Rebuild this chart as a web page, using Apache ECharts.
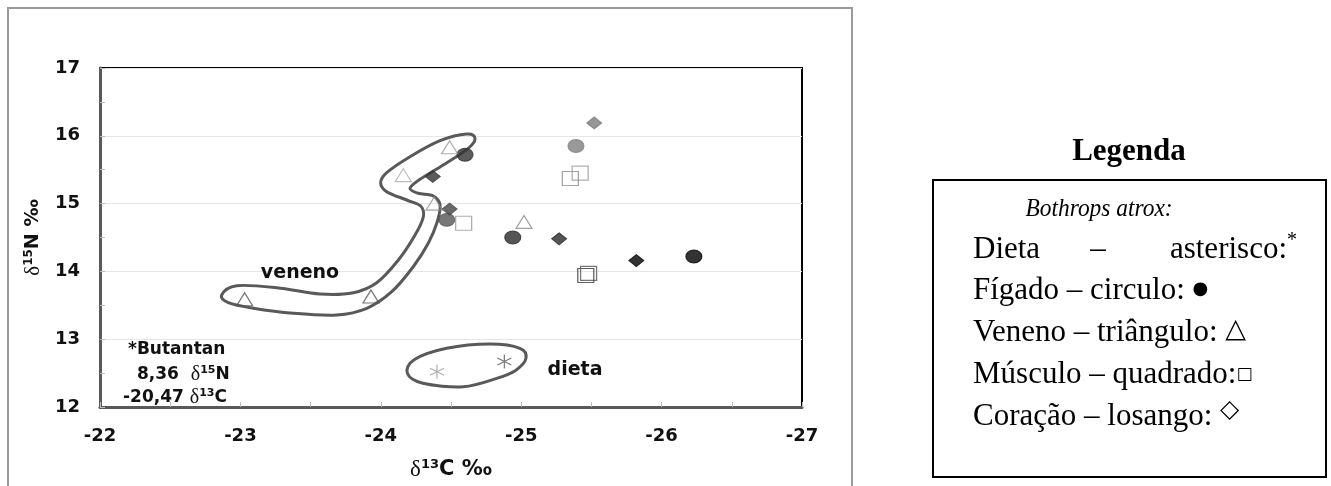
<!DOCTYPE html>
<html>
<head>
<meta charset="utf-8">
<script src="https://cdn.jsdelivr.net/npm/echarts@6/dist/echarts.min.js"></script>
<style>
  html, body { margin: 0; padding: 0; background: #fff; }
  #chart { width: 1331px; height: 486px; }
</style>
</head>
<body>
<div id="chart"></div>
<script>
// δ13C (x) and δ15N (y) values per tissue of Bothrops atrox
const liverPoints  = [[-24.60, 15.72], [-24.47, 14.76], [-24.94, 14.50], [-25.39, 15.85], [-26.23, 14.22]];
const heartPoints  = [[-25.52, 16.19], [-24.37, 15.40], [-24.49, 14.92], [-25.27, 14.48], [-25.82, 14.16]];
const musclePoints = [[-25.35, 15.37], [-25.42, 15.45], [-24.59, 14.71], [-25.46, 13.94], [-25.48, 13.97]];
const venomPoints  = [[-23.03, 13.59], [-23.93, 13.63], [-24.16, 15.42], [-24.49, 15.83], [-24.38, 15.00], [-25.02, 14.73]];
const dietPoints   = [[-24.40, 12.52], [-24.88, 12.67]];

// grey shade of each marker (one per point, same order as above)
const liverShades  = ['#333333', '#555555', '#2b2b2b', '#7f7f7f', '#000000'];
const heartShades  = ['#7a7a7a', '#333333', '#444444', '#2b2b2b', '#000000'];
const muscleShades = ['#8c8c8c', '#9a9a9a', '#9a9a9a', '#3a3a3a', '#555555'];
const venomShades  = ['#555555', '#555555', '#aaaaaa', '#9a9a9a', '#8c8c8c', '#8c8c8c'];
const dietShades   = ['#9a9a9a', '#555555'];

// hand-drawn outlines around the venom and diet groups (data coordinates)
const venomOutline = [
  [-22.867, 13.652], [-22.974, 13.789], [-23.259, 13.760], [-23.567, 13.667], [-23.804, 13.686],
  [-23.971, 13.833], [-24.125, 14.168], [-24.244, 14.537], [-24.303, 14.807], [-24.284, 14.965],
  [-24.184, 15.053], [-24.042, 15.176], [-23.999, 15.308], [-24.042, 15.456], [-24.208, 15.692],
  [-24.422, 15.928], [-24.612, 16.027], [-24.671, 15.963], [-24.623, 15.816], [-24.445, 15.569],
  [-24.279, 15.358], [-24.208, 15.226], [-24.267, 15.152], [-24.374, 15.112], [-24.422, 14.979],
  [-24.402, 14.733], [-24.338, 14.414], [-24.231, 14.069], [-24.078, 13.701], [-23.900, 13.456],
  [-23.686, 13.357], [-23.377, 13.382], [-23.092, 13.456], [-22.914, 13.538]
];
const dietOutline = [
  [-24.189, 12.497], [-24.300, 12.350], [-24.588, 12.299], [-24.825, 12.423], [-24.960, 12.540],
  [-25.034, 12.718], [-24.991, 12.866], [-24.778, 12.929], [-24.469, 12.866], [-24.240, 12.700]
];

const xTicks = { min: -27, max: -22, step: 1 };
const yTicks = { min: 12, max: 17, step: 1 };

const SANS = '"DejaVu Sans", sans-serif';
const SERIF = '"Liberation Serif", "Times New Roman", serif';
const SYM = '"DejaVu Sans", sans-serif';

function withShades(points, shades) {
  return points.map((p, i) => ({ value: p, itemStyle: { color: shades[i], borderColor: shades[i] } }));
}
function outlineOnly(points, shades) {
  return points.map((p, i) => ({ value: p, itemStyle: { borderColor: shades[i] } }));
}

// closed Catmull-Rom curve through the outline points, in pixel space
function closedCurve(pts) {
  const n = pts.length;
  let d = 'M' + pts[0][0] + ',' + pts[0][1];
  for (let i = 0; i < n; i++) {
    const p0 = pts[(i - 1 + n) % n], p1 = pts[i], p2 = pts[(i + 1) % n], p3 = pts[(i + 2) % n];
    const c1 = [p1[0] + (p2[0] - p0[0]) / 6, p1[1] + (p2[1] - p0[1]) / 6];
    const c2 = [p2[0] - (p3[0] - p1[0]) / 6, p2[1] - (p3[1] - p1[1]) / 6];
    d += ' C' + c1[0] + ',' + c1[1] + ' ' + c2[0] + ',' + c2[1] + ' ' + p2[0] + ',' + p2[1];
  }
  return d + ' Z';
}
function outlineSeries(points) {
  return {
    type: 'custom',
    silent: true,
    z: 1,
    data: points,
    encode: { x: 0, y: 1 },
    renderItem: function (params, api) {
      if (params.dataIndex !== 0) return null;
      const px = points.map(p => api.coord(p));
      return {
        type: 'path',
        shape: { pathData: closedCurve(px) },
        style: { fill: 'none', stroke: '#595959', lineWidth: 3 }
      };
    }
  };
}

const chart = echarts.init(document.getElementById('chart'));

function titleRich(big) {
  return {
    d: { fontFamily: SERIF, fontSize: big + 2, color: '#111' },
    s: { fontFamily: SANS, fontSize: Math.round(big * 0.62), fontWeight: 'bold', color: '#111', verticalAlign: 'top' },
    b: { fontFamily: SANS, fontSize: big, fontWeight: 'bold', color: '#111' }
  };
}

const LSIZE = 31;
const LFONT = LSIZE + 'px ' + SERIF;
function legendRow(text, y, rich) {
  return {
    type: 'text', x: 973, y: y, z: 10,
    style: { text: text, font: LFONT, fill: '#000', align: 'left', textAlign: 'left',
             verticalAlign: 'middle', textVerticalAlign: 'middle', rich: rich }
  };
}
function plain(text, x, y, font, align, color) {
  return {
    type: 'text', x: x, y: y, z: 10,
    style: { text: text, font: font, fill: color || '#000', align: align, textAlign: align,
             verticalAlign: 'middle', textVerticalAlign: 'middle' }
  };
}
const rowRich = function (symFont, symPad) {
  return {
    t: { font: LFONT, fill: '#000' },
    s: { font: symFont, fill: '#000', padding: symPad || [0, 0, 0, 0] }
  };
};

const option = {
  animation: false,
  grid: {
    left: 100, right: 529, top: 68, bottom: 79,
    show: true, borderColor: '#000', borderWidth: 2, backgroundColor: 'transparent'
  },
  xAxis: {
    type: 'value', inverse: true,
    min: xTicks.min, max: xTicks.max, interval: xTicks.step,
    axisLine: { show: true, onZero: false, lineStyle: { color: '#595959', width: 3 } },
    axisTick: { show: true, inside: true, length: 5, lineStyle: { color: '#bbb' } },
    minorTick: { show: true, splitNumber: 2, length: 5, lineStyle: { color: '#bbb' } },
    splitLine: { show: false },
    axisLabel: { margin: 20, fontFamily: SANS, fontWeight: 'bold', fontSize: 18, color: '#111' },
    name: '{d|δ}{s|13}{b|C ‰}', nameLocation: 'middle', nameGap: 51,
    nameTextStyle: { rich: titleRich(21) }
  },
  yAxis: {
    type: 'value',
    min: yTicks.min, max: yTicks.max, interval: yTicks.step,
    axisLine: { show: true, onZero: false, lineStyle: { color: '#595959', width: 3 } },
    axisTick: { show: true, inside: true, length: 5, lineStyle: { color: '#bbb' } },
    minorTick: { show: true, splitNumber: 2, length: 5, lineStyle: { color: '#bbb' } },
    splitLine: { show: true, lineStyle: { color: '#e6e6e6', width: 1 } },
    axisLabel: { margin: 20, fontFamily: SANS, fontWeight: 'bold', fontSize: 18, color: '#111' },
    name: '{d|δ}{s|15}{b|N ‰}', nameLocation: 'middle', nameGap: 45, nameRotate: 90,
    nameTextStyle: { rich: titleRich(19) }
  },
  series: [
    outlineSeries(venomOutline),
    outlineSeries(dietOutline),
    {
      name: 'Fígado', type: 'scatter', z: 3, symbol: 'circle', symbolSize: [16, 13],
      data: withShades(liverPoints, liverShades)
    },
    {
      name: 'Coração', type: 'scatter', z: 3, symbol: 'diamond', symbolSize: [15, 12],
      data: withShades(heartPoints, heartShades)
    },
    {
      name: 'Músculo', type: 'scatter', z: 3, symbol: 'rect', symbolSize: [16, 14],
      itemStyle: { color: 'rgba(255,255,255,0)', borderWidth: 1.2 },
      data: outlineOnly(musclePoints, muscleShades)
    },
    {
      name: 'Veneno', type: 'scatter', z: 3, symbol: 'triangle', symbolSize: [16, 13],
      itemStyle: { color: 'rgba(255,255,255,0)', borderWidth: 1.2 },
      data: outlineOnly(venomPoints, venomShades)
    },
    {
      name: 'Dieta', type: 'scatter', z: 3,
      symbol: 'path://M7,0 L7,14 M0.5,3.5 L13.5,10.5 M0.5,10.5 L13.5,3.5', symbolSize: 14,
      itemStyle: { color: 'rgba(0,0,0,0)', borderWidth: 1.2 },
      data: outlineOnly(dietPoints, dietShades)
    }
  ],
  graphic: [
    // outer frame of the plot panel
    { type: 'rect', z: 0, shape: { x: 8, y: 8, width: 844, height: 500 },
      style: { fill: 'none', stroke: '#9a9a9a', lineWidth: 2 } },
    // group labels inside the plot
    plain('veneno', 300, 273, 'bold 19px ' + SANS, 'center', '#111'),
    plain('dieta', 575, 370, 'bold 19px ' + SANS, 'center', '#111'),
    // reference values
    plain('*Butantan', 128, 350, 'bold 17px ' + SANS, 'left', '#111'),
    { type: 'text', z: 10, x: 137, y: 375,
      style: { text: '{b|8,36  }{d|δ}{s|15}{b|N}', verticalAlign: 'middle', textVerticalAlign: 'middle',
               rich: {
                 b: { font: 'bold 17px ' + SANS, fill: '#111' },
                 d: { font: '20px ' + SERIF, fill: '#111' },
                 s: { font: 'bold 11px ' + SANS, fill: '#111', verticalAlign: 'top' }
               } } },
    { type: 'text', z: 10, x: 123, y: 398,
      style: { text: '{b|-20,47 }{d|δ}{s|13}{b|C}', verticalAlign: 'middle', textVerticalAlign: 'middle',
               rich: {
                 b: { font: 'bold 17px ' + SANS, fill: '#111' },
                 d: { font: '20px ' + SERIF, fill: '#111' },
                 s: { font: 'bold 11px ' + SANS, fill: '#111', verticalAlign: 'top' }
               } } },
    // legend
    plain('Legenda', 1129, 152, 'bold 31px ' + SERIF, 'center'),
    { type: 'rect', shape: { x: 933, y: 180, width: 393, height: 297 },
      style: { fill: 'none', stroke: '#000', lineWidth: 2 } },
    Object.assign(plain('Bothrops atrox:', 1099, 209, 'italic 26px ' + SERIF, 'center'), { scaleX: 0.9 }),
    plain('Dieta', 973, 250, LFONT, 'left'),
    plain('–', 1098, 250, LFONT, 'center'),
    plain('asterisco:', 1287, 250, LFONT, 'right'),
    plain('*', 1292, 241, '20px ' + SERIF, 'center'),
    legendRow('{t|Fígado – circulo: }{s|●}', 291, rowRich('18px ' + SYM, [0, 0, 4, 0])),
    legendRow('{t|Veneno – triângulo: }{s|△}', 333, rowRich('27px ' + SYM, [0, 0, 6, 0])),
    legendRow('{t|Músculo – quadrado:}{s|□}', 375, rowRich('17px ' + SYM, [0, 0, 0, 0])),
    legendRow('{t|Coração – losango: }{s|◇}', 417, rowRich('25px ' + SYM, [0, 0, 14, 0]))
  ]
};

chart.setOption(option);
</script>
</body>
</html>
